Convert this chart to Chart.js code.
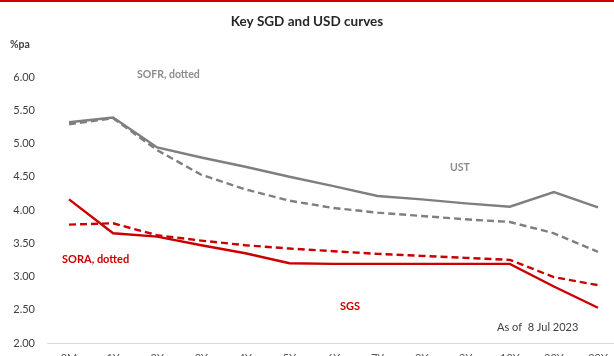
<!DOCTYPE html>
<html>
<head>
<meta charset="utf-8">
<script src="https://cdn.jsdelivr.net/npm/chart.js@4.4.0/dist/chart.umd.min.js"></script>
<style>
  html, body { margin: 0; padding: 0; background: #fff; overflow: hidden; }
  #wrap { position: relative; width: 630px; height: 372px; border-top: 2px solid #d00000; box-sizing: border-box; }
  canvas { position: absolute; left: 0; top: -2px; }
</style>
</head>
<body>
<div id="wrap"><canvas id="curveChart" width="630" height="372"></canvas></div>
<script>
/* Key SGD and USD curves, as of 8 Jul 2023 */
const tenors = ["3M","1Y","2Y","3Y","4Y","5Y","6Y","7Y","8Y","9Y","10Y","20Y","30Y"];
const ust  = [5.32, 5.39, 4.94, 4.79, 4.65, 4.50, 4.36, 4.21, 4.16, 4.10, 4.05, 4.27, 4.04];
const sofr = [5.29, 5.38, 4.90, 4.53, 4.31, 4.14, 4.03, 3.96, 3.91, 3.86, 3.82, 3.65, 3.37];
const sgs  = [4.16, 3.65, 3.60, 3.47, 3.35, 3.20, 3.19, 3.19, 3.19, 3.19, 3.19, 2.85, 2.53];
const sora = [3.78, 3.80, 3.62, 3.54, 3.47, 3.42, 3.38, 3.34, 3.31, 3.28, 3.25, 2.99, 2.87];
const yMin = 2, yMax = 6, yStep = 0.5;

const GREY = "#7f7f7f", RED = "#c80000", INK = "#404040";
const FONT = "Lato, 'Open Sans', sans-serif";

// free text on the canvas: title, units and series notes
const notes = [
  { text: "Key SGD and USD curves", x: 307, y: 22, font: "bold 13.5px " + FONT, color: "#262626", align: "center" },
  { text: "%pa", x: 10, y: 45, font: "bold 10.5px " + FONT, color: INK, align: "left" },
  { text: "SOFR, dotted", x: 137, y: 75, font: "bold 10.5px " + FONT, color: "#8c8c8c", align: "left" },
  { text: "UST", x: 450, y: 168, font: "bold 10.5px " + FONT, color: "#8c8c8c", align: "left" },
  { text: "SORA, dotted", x: 62, y: 259, font: "bold 11px " + FONT, color: RED, align: "left" },
  { text: "SGS", x: 340, y: 306, font: "bold 11px " + FONT, color: RED, align: "left" },
  { text: "As of  8 Jul 2023", x: 497, y: 327, font: "11px " + FONT, color: INK, align: "left" },
];

const notesPlugin = {
  id: "notes",
  afterDraw(chart) {
    const c = chart.ctx;
    c.save();
    c.textBaseline = "middle";
    notes.forEach(n => {
      c.font = n.font;
      c.fillStyle = n.color;
      c.textAlign = n.align;
      c.fillText(n.text, n.x, n.y);
    });
    c.restore();
  }
};

const line = (data, color, dashed) => ({
  data, borderColor: color, backgroundColor: color, borderWidth: 2.4,
  borderDash: dashed ? [7, 4] : [], pointRadius: 0, tension: 0, fill: false,
});

new Chart(document.getElementById("curveChart"), {
  type: "line",
  data: {
    labels: tenors,
    datasets: [
      line(sofr, GREY, true),
      line(ust, GREY, false),
      line(sora, RED, true),
      line(sgs, RED, false),
    ]
  },
  options: {
    responsive: false, animation: false, devicePixelRatio: 1,
    layout: { padding: { top: 77, right: 10, left: 0, bottom: 0 } },
    plugins: { legend: { display: false }, tooltip: { enabled: false }, title: { display: false } },
    scales: {
      x: {
        offset: true,
        grid: { display: false, drawTicks: false },
        border: { display: true, color: "#d9d9d9", width: 1 },
        ticks: { color: "#595959", font: { family: FONT, size: 11 }, padding: 9, maxRotation: 0, autoSkip: false },
        afterFit: s => { s.height = 29; },
      },
      y: {
        min: yMin, max: yMax,
        grid: { display: false, drawTicks: false },
        border: { display: false },
        ticks: { stepSize: yStep, color: "#404040", font: { family: FONT, size: 11 }, padding: 12, callback: v => v.toFixed(2) },
        afterFit: s => { s.width = 47; },
      },
    },
  },
  plugins: [notesPlugin],
});
</script>
</body>
</html>
